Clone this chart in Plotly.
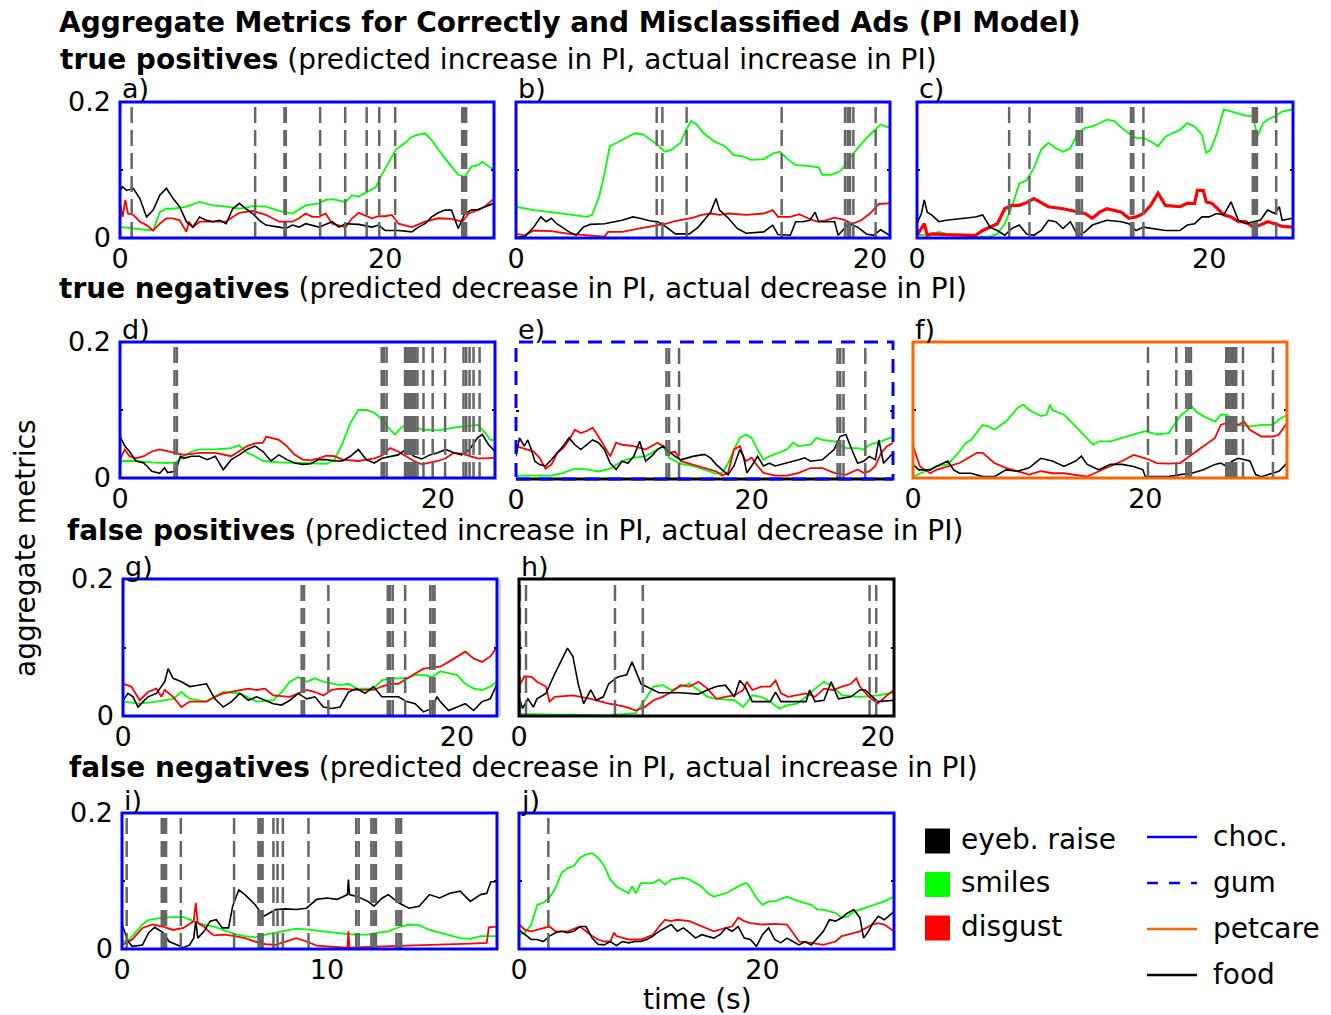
import plotly.graph_objects as go

W, H = 1331, 1015
FONT = "DejaVu Sans"
PAGE_MARGIN = 8  # the browser's default body margin shifts the figure by this many pixels

# ---------------- data: (time in s, aggregate metric) ----------------
A_SMILES = [(0,0.016),(1,0.014),(2,0.011),(2.5,0.011),(3,0.038),(3.5,0.043),(4,0.043),(5,0.046),(6,0.053),(7,0.048),(8,0.046),(9,0.043),(10,0.047),(11,0.046),(12,0.040),(13,0.036),(14,0.048),(15,0.051),(15.5,0.056),(16,0.057),(17,0.053),(17.5,0.063),(18,0.061),(18.7,0.068),(19.3,0.075),(19.6,0.088),(20.2,0.110),(20.8,0.130),(21.5,0.140),(22,0.149),(22.5,0.152),(23,0.154),(23.5,0.144),(24,0.130),(25,0.105),(25.5,0.093),(26,0.090),(26.5,0.105),(27,0.107),(27.3,0.112),(28.2,0.100)]
A_DISGUST = [(0,0.051),(0.2,0.031),(0.4,0.056),(0.6,0.036),(1,0.034),(1.5,0.024),(2,0.019),(2.5,0.011),(3,0.021),(3.5,0.029),(4,0.029),(4.5,0.026),(5,0.009),(5.2,0.024),(5.5,0.016),(6,0.024),(7,0.024),(8,0.024),(8.5,0.031),(9,0.037),(10,0.040),(11,0.034),(11.5,0.029),(12,0.024),(13,0.024),(13.5,0.029),(14,0.036),(14.5,0.031),(15,0.031),(15.5,0.036),(16,0.021),(17,0.016),(17.5,0.029),(18,0.037),(19,0.029),(19.5,0.032),(20,0.032),(20.5,0.034),(21,0.021),(22,0.016),(23,0.024),(24,0.029),(25,0.028),(25.8,0.024),(26.3,0.036),(27,0.041),(27.5,0.046),(28.2,0.058)]
A_EYEB = [(0,0.070),(0.2,0.075),(0.5,0.070),(1,0.073),(1.5,0.058),(1.8,0.041),(2,0.031),(2.5,0.041),(3,0.063),(3.5,0.073),(4,0.058),(4.5,0.046),(5,0.024),(5.5,0.016),(6,0.031),(6.5,0.026),(7,0.024),(7.5,0.026),(8,0.021),(8.5,0.043),(9,0.051),(9.5,0.043),(10,0.036),(10.5,0.026),(11,0.019),(12,0.016),(12.5,0.014),(13,0.019),(13.5,0.016),(14,0.021),(15,0.016),(16,0.024),(16.5,0.016),(17,0.021),(18,0.020),(19,0.016),(19.5,0.019),(20,0.011),(21,0.011),(22,0.009),(22.5,0.016),(23,0.021),(23.5,0.031),(24,0.037),(24.5,0.041),(25,0.041),(25.5,0.014),(26,0.036),(26.5,0.041),(27,0.042),(27.5,0.046),(28.2,0.051)]
A_EVENTS = [0.88, 10.19, 12.4, 12.5, 15.09, 16.98, 18.6, 19.55, 20.75, 25.8, 25.9, 26.0, 26.1]

B_SMILES = [(0,0.046),(1,0.041),(2,0.038),(3,0.034),(4,0.031),(4.3,0.034),(4.7,0.061),(5,0.095),(5.3,0.135),(5.7,0.140),(6.2,0.147),(6.7,0.154),(7.2,0.152),(7.6,0.144),(8,0.137),(8.4,0.127),(8.8,0.130),(9.3,0.140),(9.6,0.159),(9.9,0.172),(10.2,0.167),(10.6,0.154),(11.2,0.142),(11.8,0.135),(12.3,0.122),(12.8,0.120),(13.3,0.115),(14,0.116),(14.5,0.124),(14.9,0.127),(15.3,0.117),(15.8,0.107),(16.5,0.106),(17.1,0.104),(17.3,0.093),(17.8,0.093),(18.3,0.098),(18.6,0.107),(19,0.122),(19.4,0.135),(19.8,0.147),(20.2,0.157),(20.6,0.167),(21.1,0.162)]
B_DISGUST = [(0,0.006),(0.5,0.004),(1,0.011),(2,0.010),(3,0.006),(4,0.004),(5,0.002),(5.2,0.009),(6,0.009),(7,0.014),(7.5,0.016),(8,0.019),(8.5,0.021),(9,0.025),(10,0.030),(10.5,0.034),(11,0.036),(11.5,0.034),(12,0.036),(13,0.034),(14,0.036),(14.5,0.041),(14.8,0.031),(15.5,0.031),(16,0.035),(16.5,0.029),(17,0.024),(17.5,0.026),(18,0.030),(18.5,0.027),(19,0.021),(19.5,0.026),(20,0.036),(20.5,0.050),(21.1,0.051)]
B_EYEB = [(0,0.001),(0.5,0.002),(1,0.016),(1.4,0.031),(1.7,0.024),(2,0.029),(2.3,0.021),(2.6,0.016),(3,0.009),(3.4,0.004),(3.8,0.016),(4.2,0.020),(5,0.021),(6,0.026),(6.6,0.031),(7,0.029),(7.6,0.025),(8,0.024),(8.5,0.016),(9,0.006),(9.8,0.006),(10.3,0.016),(10.7,0.029),(11,0.038),(11.3,0.058),(11.5,0.041),(12,0.029),(12.5,0.014),(13,0.007),(14,0.009),(14.5,0.019),(14.8,0.005),(15.5,0.004),(15.8,0.024),(16.2,0.024),(16.6,0.026),(16.9,0.038),(17.1,0.024),(17.6,0.024),(18,0.024),(18.2,0.004),(18.8,0.021),(19.3,0.016),(19.8,0.006),(20.2,0.004),(20.6,0.012),(21.1,0.004)]
B_EVENTS = [7.95, 8.27, 9.64, 15.01, 18.59, 18.74, 18.87, 19.06, 20.32]

C_SMILES = [(0,0.004),(1,0.006),(1.5,0.009),(2,0.006),(3,0.004),(4,0.002),(5,0.002),(5.5,0.006),(6,0.021),(6.5,0.046),(7,0.080),(7.5,0.085),(8,0.103),(8.5,0.130),(9,0.140),(9.5,0.132),(10,0.127),(10.5,0.132),(11,0.154),(11.5,0.162),(12,0.164),(12.5,0.169),(13,0.174),(13.5,0.172),(14,0.162),(14.5,0.154),(15,0.147),(15.5,0.147),(16,0.142),(16.5,0.135),(17,0.149),(17.5,0.154),(18,0.159),(18.5,0.169),(19,0.164),(19.5,0.152),(19.8,0.125),(20.1,0.130),(20.5,0.152),(21,0.189),(21.5,0.186),(22,0.184),(22.5,0.180),(23,0.179),(23.3,0.149),(23.7,0.169),(24,0.174),(24.5,0.179),(25,0.186),(25.7,0.189)]
C_DISGUST = [(0,0.004),(0.5,0.021),(0.7,0.004),(1,0.006),(2,0.005),(3,0.005),(4,0.004),(4.5,0.011),(5,0.016),(5.5,0.021),(6,0.043),(6.5,0.048),(7,0.048),(7.5,0.052),(8,0.058),(8.5,0.052),(9,0.046),(10,0.043),(11,0.038),(11.5,0.036),(12,0.029),(12.5,0.038),(13,0.043),(14,0.038),(14.5,0.029),(15,0.031),(15.5,0.036),(16,0.048),(16.5,0.066),(17,0.048),(18,0.046),(18.5,0.051),(19,0.051),(19.2,0.070),(19.6,0.070),(19.8,0.053),(20.2,0.051),(21,0.034),(21.5,0.031),(22,0.024),(22.5,0.024),(23,0.016),(23.5,0.019),(24,0.024),(24.5,0.021),(25,0.017),(25.7,0.016)]
C_EYEB = [(0,0.021),(0.3,0.036),(0.5,0.056),(0.7,0.038),(1,0.034),(1.5,0.024),(2,0.026),(3,0.029),(4,0.031),(4.5,0.034),(5,0.016),(5.5,0.011),(6,0.004),(6.5,0.014),(7,0.019),(7.5,0.006),(8,0.004),(8.5,0.011),(9,0.026),(9.5,0.024),(10,0.014),(10.5,0.024),(11,0.004),(11.5,0.009),(12,0.019),(13,0.026),(14,0.024),(14.5,0.021),(15,0.011),(15.5,0.016),(16,0.014),(17,0.011),(18,0.011),(18.5,0.019),(19,0.021),(19.5,0.031),(20,0.031),(20.5,0.036),(21,0.034),(21.5,0.053),(22,0.026),(22.5,0.021),(23,0.024),(23.5,0.026),(24,0.041),(24.5,0.036),(24.8,0.046),(25,0.026),(25.7,0.029)]
C_EVENTS = [6.31, 7.70, 10.93, 11.11, 11.29, 14.65, 14.81, 15.50, 22.99, 23.13, 23.27, 24.59]

D_SMILES = [(0,0.017),(0.1,0.025),(0.5,0.025),(1,0.025),(2,0.023),(3,0.022),(3.5,0.023),(4,0.032),(4.5,0.039),(5,0.042),(6,0.042),(7,0.044),(7.5,0.048),(8,0.037),(8.5,0.032),(9,0.025),(10,0.023),(11,0.022),(12,0.022),(13,0.021),(13.5,0.027),(14,0.051),(14.5,0.081),(15,0.100),(15.5,0.100),(16,0.096),(16.5,0.086),(17,0.071),(17.3,0.064),(17.7,0.074),(18,0.078),(18.5,0.076),(19,0.071),(20,0.070),(21,0.074),(22,0.076),(22.5,0.078),(23,0.066),(23.3,0.056),(23.6,0.056)]
D_DISGUST = [(0,0.027),(0.3,0.042),(0.6,0.032),(1,0.029),(1.5,0.032),(2,0.039),(2.5,0.042),(3,0.039),(3.5,0.037),(4,0.034),(5,0.037),(6,0.037),(7,0.032),(7.5,0.039),(8,0.047),(8.5,0.051),(9,0.052),(9.2,0.061),(9.5,0.059),(10,0.056),(10.5,0.047),(11,0.034),(11.5,0.027),(12,0.026),(12.5,0.029),(13,0.033),(13.5,0.032),(14,0.027),(15,0.025),(16,0.029),(16.5,0.033),(17,0.044),(17.5,0.039),(18,0.032),(18.5,0.025),(19,0.020),(19.5,0.022),(20,0.025),(20.5,0.029),(21,0.037),(21.5,0.036),(22,0.032),(22.5,0.029),(23,0.029),(23.6,0.030)]
D_EYEB = [(0,0.061),(0.3,0.047),(0.6,0.039),(1,0.025),(1.5,0.022),(2,0.010),(2.5,0.007),(2.8,0.015),(3,0.008),(3.5,0.010),(3.8,0.032),(4,0.029),(4.5,0.032),(5,0.032),(5.5,0.027),(6,0.032),(6.5,0.012),(7,0.027),(7.5,0.034),(8,0.042),(8.5,0.047),(9,0.039),(9.5,0.025),(10,0.034),(10.5,0.027),(11,0.022),(11.5,0.020),(12,0.021),(12.5,0.027),(13,0.027),(13.5,0.025),(14,0.025),(14.5,0.032),(15,0.042),(15.5,0.027),(16,0.022),(16.5,0.029),(17,0.032),(17.5,0.034),(18,0.042),(18.5,0.032),(19,0.028),(19.5,0.034),(20,0.037),(20.5,0.042),(21,0.037),(21.5,0.034),(22,0.042),(22.5,0.059),(22.8,0.064),(23.2,0.049),(23.6,0.039)]
D_EVENTS = [3.43, 3.58, 16.47, 16.61, 16.78, 17.94, 18.04, 18.15, 18.25, 18.36, 18.46, 18.57, 18.72, 19.10, 19.68, 20.46, 21.62, 21.79, 22.0, 22.25, 22.63]

E_SMILES = [(0,0.005),(1,0.005),(2,0.006),(3,0.005),(4,0.009),(5,0.015),(6,0.014),(7,0.011),(8,0.015),(8.5,0.021),(9,0.026),(10,0.031),(11,0.033),(12,0.043),(12.5,0.048),(13,0.031),(13.5,0.026),(14,0.022),(15,0.019),(16,0.014),(17,0.008),(17.5,0.009),(18,0.023),(18.5,0.043),(19,0.060),(19.5,0.065),(20,0.060),(20.5,0.043),(21,0.028),(21.5,0.033),(22,0.036),(23,0.043),(23.5,0.053),(24,0.048),(25,0.050),(25.5,0.060),(26,0.057),(27,0.055),(27.5,0.050),(28,0.045),(29,0.045),(29.5,0.043),(30,0.050),(31,0.055),(32,0.062)]
E_DISGUST = [(0,0.048),(0.5,0.045),(1,0.043),(1.5,0.040),(2,0.031),(2.5,0.015),(3,0.021),(3.5,0.038),(4,0.045),(4.5,0.057),(5,0.072),(5.5,0.067),(6,0.070),(6.5,0.075),(7,0.062),(7.5,0.048),(8,0.033),(8.5,0.053),(9,0.050),(10,0.048),(11,0.043),(12,0.053),(12.5,0.048),(13,0.038),(13.5,0.040),(14,0.026),(15,0.021),(16,0.016),(17,0.011),(17.5,0.005),(18,0.009),(18.5,0.043),(19,0.048),(19.3,0.033),(19.5,0.026),(20,0.031),(20.5,0.019),(21,0.009),(22,0.005),(23,0.005),(24,0.009),(25,0.016),(26,0.016),(27,0.009),(28,0.006),(29,0.014),(29.5,0.009),(30,0.011),(30.5,0.019),(31,0.038),(31.5,0.048),(32,0.053)]
E_EYEB = [(0,0.033),(0.3,0.060),(0.7,0.048),(1,0.057),(1.3,0.043),(1.6,0.026),(2,0.021),(2.5,0.019),(3,0.028),(3.5,0.038),(4,0.048),(4.5,0.060),(5,0.050),(5.5,0.043),(6,0.050),(6.5,0.057),(7,0.053),(7.5,0.043),(8,0.023),(8.5,0.014),(9,0.026),(9.5,0.023),(10,0.033),(10.5,0.055),(11,0.026),(11.5,0.033),(12,0.043),(12.5,0.048),(13,0.040),(13.5,0.033),(14,0.028),(15,0.033),(16,0.036),(16.5,0.031),(17,0.021),(17.5,0.014),(18,0.006),(18.5,0.019),(19,0.043),(19.3,0.033),(19.6,0.009),(20,0.019),(20.5,0.033),(21,0.019),(21.5,0.023),(22,0.019),(23,0.023),(24,0.028),(24.5,0.031),(25,0.026),(26,0.028),(27,0.043),(27.5,0.062),(28,0.065),(28.5,0.043),(29,0.023),(29.5,0.026),(30,0.033),(30.5,0.028),(30.8,0.057),(31.2,0.023),(32,0.038)]
E_EVENTS = [12.77, 12.99, 13.84, 27.29, 27.52, 27.8, 29.65]

F_SMILES = [(0,0.002),(1,0.010),(2,0.017),(3,0.020),(4,0.039),(4.5,0.051),(5,0.056),(6,0.078),(6.5,0.076),(7,0.071),(8,0.083),(9,0.103),(9.5,0.108),(10,0.100),(11,0.091),(11.5,0.093),(11.8,0.108),(12,0.100),(13,0.093),(14,0.076),(15,0.059),(15.5,0.049),(16,0.054),(17,0.054),(18,0.059),(19,0.064),(20,0.069),(21,0.064),(22,0.066),(23,0.091),(23.5,0.098),(24,0.105),(24.5,0.096),(25,0.091),(26,0.083),(26.5,0.093),(27,0.093),(28,0.078),(29,0.076),(30,0.078),(31,0.078),(31.5,0.086),(32.2,0.093)]
F_DISGUST = [(0,0.047),(0.3,0.032),(0.6,0.017),(1,0.012),(1.5,0.007),(2,0.012),(3,0.017),(4,0.022),(5,0.032),(5.5,0.037),(6,0.037),(7,0.022),(8,0.015),(9,0.010),(10,0.005),(11,0.010),(12,0.007),(13,0.007),(14,0.005),(15,0.002),(16,0.010),(17,0.017),(18,0.025),(19,0.034),(20,0.029),(21,0.022),(22,0.021),(23,0.022),(24,0.034),(25,0.047),(26,0.059),(26.5,0.078),(27,0.081),(28,0.078),(28.5,0.083),(29,0.071),(30,0.061),(31,0.061),(31.5,0.064),(32.2,0.081)]
F_EYEB = [(0,0.020),(0.5,0.012),(1,0.012),(1.5,0.012),(2,0.017),(3,0.025),(3.5,0.012),(4,0.007),(5,0.007),(6,0.002),(7,0.002),(8,0.012),(9,0.010),(10,0.015),(10.5,0.022),(11,0.029),(12,0.025),(13,0.017),(14,0.025),(14.5,0.032),(15,0.020),(16,0.012),(17,0.020),(18,0.020),(19,0.017),(19.8,0.012),(20,0.002),(21,0.002),(22,0.002),(23,0.005),(24,0.007),(25,0.012),(26,0.020),(26.5,0.022),(27,0.017),(27.5,0.025),(28,0.029),(29,0.025),(29.5,0.005),(30,0.002),(31,0.007),(31.5,0.010),(32.2,0.022)]
F_EVENTS = [20.23, 22.67, 23.53, 23.73, 23.93, 26.97, 27.14, 27.32, 27.49, 27.66, 27.83, 28.41, 30.99]

G_SMILES = [(0,0.021),(1,0.018),(2,0.021),(3,0.025),(3.5,0.035),(4,0.025),(5,0.021),(5.5,0.028),(6,0.035),(7,0.033),(8,0.021),(9,0.023),(9.5,0.035),(10,0.050),(10.5,0.057),(11,0.050),(11.5,0.055),(12,0.050),(13,0.045),(13.5,0.047),(14,0.040),(15,0.040),(15.5,0.052),(16,0.055),(17,0.055),(17.5,0.060),(18,0.060),(18.5,0.057),(19,0.065),(20,0.060),(20.5,0.047),(21,0.040),(21.5,0.038),(22,0.043),(22.4,0.050)]
G_DISGUST = [(0,0.047),(0.5,0.043),(1,0.023),(1.5,0.035),(2,0.040),(2.3,0.028),(2.5,0.038),(3,0.028),(3.5,0.013),(4,0.021),(5,0.021),(5.5,0.028),(6,0.033),(7,0.038),(7.5,0.040),(8,0.038),(8.5,0.040),(9,0.030),(10,0.028),(10.5,0.033),(11,0.038),(11.5,0.035),(12,0.030),(12.5,0.038),(13,0.040),(14,0.038),(15,0.038),(15.5,0.043),(16,0.047),(16.5,0.047),(17,0.055),(17.5,0.062),(18,0.069),(19,0.072),(19.5,0.079),(20,0.087),(20.5,0.094),(21,0.084),(21.5,0.079),(22,0.087),(22.4,0.101)]
G_EYEB = [(0,0.023),(0.3,0.033),(0.6,0.028),(0.9,0.013),(1.2,0.021),(1.5,0.028),(2,0.033),(2.5,0.050),(2.7,0.069),(3,0.055),(3.5,0.050),(4,0.043),(4.5,0.045),(5,0.047),(5.5,0.025),(6,0.013),(6.5,0.021),(7,0.033),(7.5,0.023),(8,0.028),(8.5,0.023),(9,0.018),(9.5,0.016),(10,0.023),(10.5,0.033),(11,0.025),(11.5,0.028),(12,0.013),(12.5,0.011),(13,0.013),(13.5,0.035),(14,0.040),(14.5,0.033),(15,0.043),(15.5,0.028),(16,0.028),(16.5,0.028),(17,0.021),(17.5,0.018),(18,0.006),(18.5,0.011),(18.8,0.028),(19,0.021),(19.5,0.008),(20,0.013),(20.5,0.018),(21,0.008),(21.5,0.021),(22,0.025),(22.4,0.047)]
G_EVENTS = [10.7, 10.84, 12.3, 15.86, 16.0, 16.16, 16.9, 18.4, 18.54, 18.66]

H_SMILES = [(0,0.003),(1,0.002),(2,0.002),(3,0.002),(4,0.001),(5,0.001),(6,0.003),(6.5,0.004),(7,0.023),(7.5,0.043),(8,0.045),(8.5,0.038),(9,0.043),(9.5,0.047),(10,0.038),(10.5,0.028),(11,0.025),(12,0.023),(12.5,0.013),(13,0.030),(13.5,0.028),(14,0.021),(14.5,0.011),(15,0.016),(15.5,0.018),(16,0.028),(16.5,0.040),(17,0.050),(17.5,0.043),(18,0.030),(19,0.028),(19.5,0.029),(20,0.030),(20.9,0.034)]
H_DISGUST = [(0,0.043),(0.3,0.058),(0.7,0.057),(1,0.050),(1.5,0.043),(1.7,0.021),(2,0.028),(3,0.030),(4,0.025),(5,0.018),(5.5,0.016),(6,0.013),(6.5,0.008),(7,0.013),(7.5,0.023),(8,0.028),(8.5,0.035),(9,0.045),(9.5,0.043),(10,0.050),(10.5,0.040),(11,0.025),(11.5,0.028),(12,0.030),(12.5,0.038),(12.7,0.050),(13,0.038),(13.5,0.043),(14,0.043),(14.3,0.052),(14.6,0.033),(15,0.028),(16,0.033),(16.5,0.028),(17,0.040),(17.5,0.038),(18,0.043),(18.5,0.047),(18.8,0.055),(19,0.043),(19.5,0.028),(20,0.018),(20.5,0.030),(20.9,0.038)]
H_EYEB = [(0,0.028),(0.2,0.011),(0.5,0.025),(0.8,0.013),(1,0.025),(1.5,0.033),(2,0.062),(2.5,0.087),(2.7,0.099),(3,0.087),(3.3,0.047),(3.6,0.018),(4,0.038),(4.3,0.023),(4.7,0.028),(5,0.047),(5.5,0.057),(6,0.060),(6.3,0.079),(6.8,0.047),(7.3,0.040),(7.8,0.034),(9,0.034),(10,0.032),(10.5,0.038),(11,0.043),(11.5,0.045),(12,0.028),(12.3,0.052),(12.6,0.043),(13,0.021),(14,0.021),(14.3,0.035),(14.6,0.021),(15,0.021),(16,0.021),(16.2,0.038),(16.5,0.021),(17,0.023),(17.4,0.050),(17.8,0.025),(18.5,0.028),(19,0.038),(19.3,0.038),(19.7,0.028),(20,0.021),(20.9,0.023)]
H_EVENTS = [0.05, 0.39, 5.35, 6.9, 19.54, 19.91]

I_SMILES = [(0,0.011),(0.3,0.011),(0.5,0.019),(1,0.036),(1.3,0.043),(2,0.046),(2.5,0.047),(3,0.047),(3.5,0.041),(4,0.036),(4.5,0.033),(5,0.028),(5.5,0.022),(6,0.019),(6.5,0.017),(7,0.021),(7.5,0.024),(8,0.028),(8.5,0.030),(9,0.029),(9.5,0.027),(10,0.026),(11,0.022),(11.5,0.021),(12,0.021),(12.5,0.024),(13,0.026),(13.5,0.032),(14,0.036),(14.5,0.035),(15,0.028),(15.5,0.024),(16,0.020),(16.5,0.016),(17,0.015),(17.5,0.019),(18.3,0.019)]
I_DISGUST = [(0,0.006),(0.5,0.014),(1,0.031),(1.5,0.036),(2,0.033),(2.5,0.028),(3,0.031),(3.5,0.041),(3.6,0.068),(3.7,0.038),(4,0.033),(4.3,0.024),(4.5,0.020),(5,0.021),(5.5,0.019),(6,0.016),(6.5,0.011),(7,0.007),(7.5,0.006),(8,0.011),(8.5,0.016),(9,0.011),(9.5,0.005),(10,0.004),(10.5,0.003),(11,0.002),(11.05,0.026),(11.1,0.002),(12,0.003),(13,0.004),(14,0.004),(15,0.005),(16,0.006),(17,0.008),(17.8,0.009),(17.9,0.032),(18.3,0.033)]
I_EYEB = [(0,0.036),(0.3,0.011),(0.5,0.004),(1,0.006),(1.3,0.024),(1.6,0.032),(2,0.024),(2.3,0.011),(2.7,0.006),(3,0.002),(3.3,0.006),(3.5,0.016),(3.6,0.041),(3.7,0.016),(4,0.026),(4.3,0.041),(4.6,0.043),(4.9,0.031),(5.2,0.031),(5.4,0.063),(5.7,0.087),(6,0.080),(6.5,0.065),(6.9,0.048),(7.2,0.053),(7.5,0.058),(8,0.059),(8.5,0.058),(9,0.060),(9.5,0.073),(10,0.075),(10.5,0.073),(11,0.080),(11.05,0.102),(11.1,0.080),(11.5,0.077),(12,0.070),(12.3,0.063),(12.7,0.075),(13,0.080),(13.5,0.068),(14,0.060),(14.5,0.063),(15,0.080),(15.5,0.075),(16,0.082),(16.5,0.085),(17,0.070),(17.5,0.080),(17.8,0.082),(18,0.099),(18.3,0.099)]
I_EVENTS = [0.23, 1.94, 2.05, 2.15, 2.87, 5.47, 6.66, 6.76, 6.86, 7.39, 7.59, 7.85, 9.1, 11.43, 11.55, 12.17, 12.28, 12.39, 13.39, 13.5, 13.62]

J_SMILES = [(0,0.021),(0.5,0.024),(1,0.036),(1.5,0.065),(2,0.068),(2.5,0.075),(3,0.090),(3.5,0.112),(4,0.119),(4.5,0.122),(5,0.134),(5.5,0.139),(6,0.141),(6.5,0.134),(7,0.122),(7.5,0.102),(8,0.092),(8.5,0.087),(9,0.082),(9.3,0.092),(9.6,0.082),(10,0.097),(11,0.097),(11.5,0.102),(12,0.095),(12.5,0.102),(13,0.104),(13.5,0.105),(14,0.102),(15,0.092),(15.5,0.082),(16,0.077),(17,0.082),(17.5,0.087),(18,0.092),(18.3,0.095),(18.7,0.097),(19,0.090),(19.5,0.075),(20,0.065),(20.5,0.070),(21,0.070),(22,0.077),(22.5,0.073),(23,0.070),(24,0.065),(24.5,0.058),(25,0.058),(26,0.053),(26.5,0.046),(27,0.048),(27.5,0.055),(28,0.058),(29,0.065),(30,0.070),(30.8,0.077)]
J_DISGUST = [(0,0.036),(0.5,0.028),(1,0.026),(2,0.031),(2.5,0.033),(3,0.026),(4,0.026),(5,0.033),(5.5,0.026),(6,0.019),(6.5,0.014),(7,0.011),(7.5,0.011),(7.8,0.024),(8,0.019),(9,0.014),(10,0.014),(11,0.021),(11.5,0.033),(12,0.043),(12.5,0.041),(13,0.043),(14,0.041),(15,0.033),(16,0.026),(17,0.031),(17.5,0.033),(18,0.046),(18.5,0.041),(19,0.038),(20,0.036),(21,0.037),(22,0.036),(22.5,0.024),(23,0.011),(24,0.009),(25,0.006),(26,0.011),(26.5,0.019),(27,0.021),(28,0.026),(28.5,0.031),(29,0.036),(29.5,0.038),(30,0.036),(30.8,0.026)]
J_EYEB = [(0,0.028),(0.5,0.021),(1,0.014),(1.5,0.014),(2,0.011),(2.5,0.019),(3,0.024),(3.5,0.026),(4,0.024),(4.5,0.026),(5,0.033),(5.5,0.033),(6,0.016),(6.5,0.007),(7,0.006),(7.5,0.011),(8,0.005),(8.5,0.011),(9,0.009),(9.5,0.011),(10,0.011),(10.5,0.014),(11,0.019),(11.5,0.026),(12,0.031),(12.5,0.036),(13,0.026),(13.5,0.031),(14,0.024),(14.5,0.016),(15,0.021),(16,0.016),(16.5,0.021),(17,0.031),(17.5,0.026),(18,0.033),(18.5,0.016),(19,0.014),(19.5,0.004),(20,0.021),(20.5,0.031),(21,0.014),(21.5,0.009),(22,0.016),(22.5,0.011),(23,0.006),(23.5,0.011),(24,0.006),(24.5,0.016),(25,0.026),(25.5,0.043),(26,0.041),(26.5,0.046),(27,0.053),(27.5,0.058),(28,0.046),(28.3,0.016),(28.7,0.026),(29,0.036),(29.5,0.048),(30,0.043),(30.8,0.055)]
J_EVENTS = [2.41]

PANEL_LABELS = ["a)", "b)", "c)", "d)", "e)", "f)", "g)", "h)", "i)", "j)"]
X_MAX = [28.2, 21.13, 25.74, 23.6, 32.0, 32.2, 22.4, 20.9, 18.3, 30.8]
X_TICKS = [[0, 20], [0, 20], [0, 20], [0, 20], [0, 20], [0, 20], [0, 20], [0, 20], [0, 10], [0, 20]]
Y_TICKS = [0, 0.1, 0.2]
Y_TICKTEXT = ["0", "", "0.2"]
CATEGORY = ["choc.", "choc.", "choc.", "choc.", "gum", "petcare", "choc.", "food", "choc.", "choc."]
SERIES = [
    (A_SMILES, A_DISGUST, A_EYEB, A_EVENTS),
    (B_SMILES, B_DISGUST, B_EYEB, B_EVENTS),
    (C_SMILES, C_DISGUST, C_EYEB, C_EVENTS),
    (D_SMILES, D_DISGUST, D_EYEB, D_EVENTS),
    (E_SMILES, E_DISGUST, E_EYEB, E_EVENTS),
    (F_SMILES, F_DISGUST, F_EYEB, F_EVENTS),
    (G_SMILES, G_DISGUST, G_EYEB, G_EVENTS),
    (H_SMILES, H_DISGUST, H_EYEB, H_EVENTS),
    (I_SMILES, I_DISGUST, I_EYEB, I_EVENTS),
    (J_SMILES, J_DISGUST, J_EYEB, J_EVENTS),
]
GROUP_TITLES = [
    ("true positives", " (predicted increase in PI, actual increase in PI)"),
    ("true negatives", " (predicted decrease in PI, actual decrease in PI)"),
    ("false positives", " (predicted increase in PI, actual decrease in PI)"),
    ("false negatives", " (predicted decrease in PI, actual increase in PI)"),
]
METRIC_NAMES = ["eyeb. raise", "smiles", "disgust"]
METRIC_COLORS = ["#000000", "#00ff00", "#ff0000"]
CATEGORY_NAMES = ["choc.", "gum", "petcare", "food"]
CATEGORY_STYLE = {"choc.": ("#0000ff", "solid"), "gum": ("#0000ff", "14px,9px"),
                  "petcare": ("#ff6600", "solid"), "food": ("#000000", "solid")}

# ---------------- layout geometry (pixels in the target picture) ----------------
BOXES = [(120, 494, 102, 238), (516, 890, 102, 238), (917, 1293, 102, 238),
         (120, 495, 342, 478), (516, 893, 342, 479), (913, 1287, 342, 478),
         (123, 497, 579, 716), (519, 894, 579, 716),
         (122, 497, 813, 949), (519, 894, 813, 949)]
YLABEL_PANELS = {0, 3, 6, 8}
GROUP_TITLE_POS = [(58, 59), (57, 289), (65, 530), (67, 767)]


def px(x):
    return (x - PAGE_MARGIN) / W


def py(y):
    return 1 - (y - PAGE_MARGIN) / H


fig = go.Figure()
shapes = []
annotations = []
layout_axes = {}

for k in range(10):
    n = k + 1
    suffix = "" if n == 1 else str(n)
    xa, ya = "x" + suffix, "y" + suffix
    l, r, t, b = BOXES[k]
    smiles, disgust, eyeb, events = SERIES[k]
    red_w = 3.2 if k == 2 else 1.8
    for data, col, w in ((smiles, "#00ff00", 1.8), (disgust, "#ff0000", red_w), (eyeb, "#000000", 1.6)):
        fig.add_trace(go.Scatter(x=[p[0] for p in data], y=[p[1] for p in data], mode="lines",
                                 line=dict(color=col, width=w), xaxis=xa, yaxis=ya,
                                 showlegend=False, hoverinfo="skip"))
    for ev in events:
        shapes.append(dict(type="line", xref=xa, yref=f"{ya} domain", x0=ev, x1=ev, y0=0, y1=1,
                           line=dict(color="#666666", width=2.5, dash="16px,7px"), layer="above"))
    show_y = k in YLABEL_PANELS
    layout_axes["xaxis" + suffix] = dict(
        domain=[px(l), px(r)], anchor=ya, range=[0, X_MAX[k]], automargin=False,
        tickvals=X_TICKS[k], ticktext=[str(v) for v in X_TICKS[k]],
        showgrid=False, zeroline=False, showline=False, ticks="",
        tickfont=dict(family=FONT, size=27, color="black"), ticklabelstandoff=2)
    layout_axes["yaxis" + suffix] = dict(
        domain=[py(b), py(t)], anchor=xa, range=[0, 0.2], automargin=False,
        tickvals=Y_TICKS, ticktext=Y_TICKTEXT, showticklabels=show_y,
        showgrid=False, zeroline=False, showline=False,
        ticks="inside", ticklen=3, tickwidth=2, tickcolor="black", mirror="ticks",
        tickfont=dict(family=FONT, size=27, color="black"), ticklabelstandoff=8)
    color, dash = CATEGORY_STYLE[CATEGORY[k]]
    if CATEGORY[k] == "gum":
        shapes.append(dict(type="line", xref=f"{xa} domain", yref=f"{ya} domain",
                           x0=0, x1=1, y0=0, y1=0, line=dict(color="black", width=3), layer="above"))
    shapes.append(dict(type="rect", xref=f"{xa} domain", yref=f"{ya} domain",
                       x0=0, x1=1, y0=0, y1=1, line=dict(color=color, width=3, dash=dash),
                       fillcolor="rgba(0,0,0,0)", layer="above"))
    annotations.append(dict(text=PANEL_LABELS[k], xref="paper", yref="paper",
                            x=px(l), y=py(t - 13), xanchor="left", yanchor="middle",
                            showarrow=False, font=dict(family=FONT, size=27, color="black")))

# faint rule left of panel h
shapes.append(dict(type="line", xref="paper", yref="paper", x0=px(500), x1=px(500),
                   y0=py(580), y1=py(716), line=dict(color="#c8c8c8", width=1.5)))

annotations.append(dict(text="<b>Aggregate Metrics for Correctly and Misclassified Ads (PI Model)</b>",
                        xref="paper", yref="paper", x=px(57), y=py(22), xanchor="left", yanchor="middle",
                        showarrow=False, font=dict(family=FONT, size=28, color="black")))
for (bold, rest), (x, y) in zip(GROUP_TITLES, GROUP_TITLE_POS):
    annotations.append(dict(text=f"<b>{bold}</b>{rest}", xref="paper", yref="paper",
                            x=px(x), y=py(y), xanchor="left", yanchor="middle", showarrow=False,
                            font=dict(family=FONT, size=28, color="black")))

annotations.append(dict(text="aggregate metrics", xref="paper", yref="paper", x=px(25), y=py(548),
                        xanchor="center", yanchor="middle", textangle=-90, showarrow=False,
                        font=dict(family=FONT, size=28, color="black")))
annotations.append(dict(text="time (s)", xref="paper", yref="paper", x=px(697), y=py(999),
                        xanchor="center", yanchor="middle", showarrow=False,
                        font=dict(family=FONT, size=28, color="black")))

# legend (metrics: coloured squares; categories: frame line styles)
for i, (name, col) in enumerate(zip(METRIC_NAMES, METRIC_COLORS)):
    yc = 841 + i * 43.5
    shapes.append(dict(type="rect", xref="paper", yref="paper", x0=px(925), x1=px(950),
                       y0=py(yc + 12.5), y1=py(yc - 12.5), fillcolor=col, line=dict(width=0)))
    annotations.append(dict(text=name, xref="paper", yref="paper", x=px(959), y=py(yc - 2),
                            xanchor="left", yanchor="middle", showarrow=False,
                            font=dict(family=FONT, size=28, color="black")))
for i, name in enumerate(CATEGORY_NAMES):
    yc = 837 + i * 46
    col, dash = CATEGORY_STYLE[name]
    if name == "gum":
        dash = "11px,11px"
    shapes.append(dict(type="line", xref="paper", yref="paper", x0=px(1147), x1=px(1197),
                       y0=py(yc), y1=py(yc), line=dict(color=col, width=2.5, dash=dash)))
    annotations.append(dict(text=name, xref="paper", yref="paper", x=px(1211), y=py(yc - 1),
                            xanchor="left", yanchor="middle", showarrow=False,
                            font=dict(family=FONT, size=28, color="black")))

fig.update_layout(width=W, height=H, autosize=False,
                  margin=dict(l=0, r=0, t=0, b=0, pad=0, autoexpand=False),
                  paper_bgcolor="white", plot_bgcolor="white", showlegend=False,
                  font=dict(family=FONT, size=27, color="black"),
                  shapes=shapes, annotations=annotations, **layout_axes)
fig.write_html("out.html")
